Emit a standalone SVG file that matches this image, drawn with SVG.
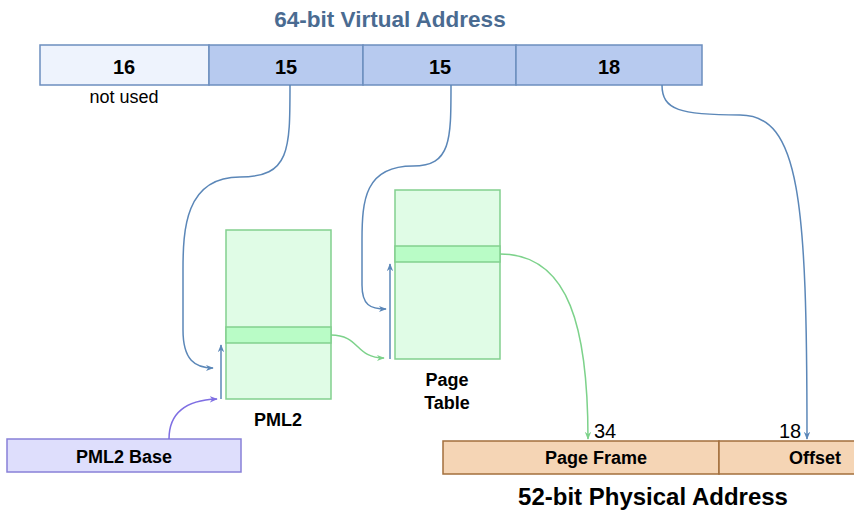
<svg xmlns="http://www.w3.org/2000/svg" width="854" height="512" viewBox="0 0 854 512">
<defs>
<style>
.t{font-family:"Liberation Sans",Arial,sans-serif;font-weight:bold;fill:#000;text-anchor:middle}
.n{font-family:"Liberation Sans",Arial,sans-serif;fill:#000;text-anchor:middle}
.va{fill:#b7caef;stroke:#6c8ebf;stroke-width:1.5}
.tb{fill:#e0fce6;stroke:#82d08e;stroke-width:1.5}
.hl{fill:#b9fcc6;stroke:#82d08e;stroke-width:1.5}
.bl{fill:none;stroke:#5b87b8;stroke-width:1.5}
.gr{fill:none;stroke:#7dd28b;stroke-width:1.5}
.pu{fill:none;stroke:#7f6fe3;stroke-width:1.5}
</style>
<marker id="ab" viewBox="0 0 10 10" refX="9" refY="5" markerWidth="8" markerHeight="8" orient="auto" markerUnits="userSpaceOnUse"><path d="M0,1 L10,5 L0,9 L3,5 z" fill="#5b87b8"/></marker>
<marker id="ag" viewBox="0 0 10 10" refX="9" refY="5" markerWidth="8" markerHeight="8" orient="auto" markerUnits="userSpaceOnUse"><path d="M0,1 L10,5 L0,9 L3,5 z" fill="#7dd28b"/></marker>
<marker id="ap" viewBox="0 0 10 10" refX="9" refY="5" markerWidth="8" markerHeight="8" orient="auto" markerUnits="userSpaceOnUse"><path d="M0,1 L10,5 L0,9 L3,5 z" fill="#7f6fe3"/></marker>
</defs>
<rect width="854" height="512" fill="#fff"/>
<text class="t" x="390" y="27" font-size="22.5" style="fill:#4a6b91">64-bit Virtual Address</text>
<g id="virtual">
<rect x="40" y="45" width="169" height="40" fill="#eef3fd" stroke="#6c8ebf" stroke-width="1.5"/>
<rect class="va" x="209" y="45" width="154" height="40"/>
<rect class="va" x="363" y="45" width="153" height="40"/>
<rect class="va" x="516" y="45" width="186" height="40"/>
<text class="t" x="124" y="74" font-size="20">16</text>
<text class="t" x="286" y="74" font-size="20">15</text>
<text class="t" x="440" y="74" font-size="20">15</text>
<text class="t" x="609" y="74" font-size="20">18</text>
<text class="n" x="124" y="103" font-size="18">not used</text>
</g>
<g id="pml2">
<rect class="tb" x="226" y="230" width="105" height="169"/>
<rect class="hl" x="226" y="327" width="105" height="16"/>
<text class="t" x="278" y="426" font-size="18">PML2</text>
</g>
<g id="pagetable">
<rect class="tb" x="395" y="190" width="105" height="169"/>
<rect class="hl" x="395" y="246" width="105" height="16"/>
<text class="t" x="447" y="386" font-size="18">Page</text>
<text class="t" x="447" y="409" font-size="18">Table</text>
</g>
<g id="pml2base">
<rect x="7" y="439" width="234" height="33" fill="#dedefc" stroke="#8880d8" stroke-width="1.5"/>
<text class="t" x="124" y="463" font-size="18">PML2 Base</text>
</g>
<g id="physical">
<rect x="443" y="441" width="276" height="33" fill="#f5d5b5" stroke="#a36f3c" stroke-width="1.5"/>
<rect x="719" y="441" width="140" height="33" fill="#f5d5b5" stroke="#a36f3c" stroke-width="1.5"/>
<text class="t" x="596" y="464" font-size="18">Page Frame</text>
<text class="t" x="815" y="464" font-size="18">Offset</text>
<text class="n" x="605" y="438" font-size="20">34</text>
<text class="n" x="790" y="438" font-size="20">18</text>
<text class="t" x="653" y="505" font-size="24">52-bit Physical Address</text>
</g>
<g id="connectors">
<path class="bl" d="M221,399 L221,345" marker-end="url(#ab)"/>
<path class="bl" d="M390,359 L390,264" marker-end="url(#ab)"/>
<path class="bl" d="M290,85 C290,150 290,177 240,177 C185,177 183,230 183,270 L183,330 C183,360 195,368 213,368" marker-end="url(#ab)"/>
<path class="bl" d="M451,85 C451,140 451,166 413,166 C365,166 362,200 362,240 L362,285 C362,305 370,309 386,309" marker-end="url(#ab)"/>
<path class="bl" d="M662,85 C662,110 680,115 740,115 C800,115 807,200 807,439" marker-end="url(#ab)"/>
<path class="gr" d="M331,335 C360,335 355,358 384,358" marker-end="url(#ag)"/>
<path class="gr" d="M500,254 C570,254 588,330 588,439" marker-end="url(#ag)"/>
<path class="pu" d="M169,439 C169,410 190,400 217,399" marker-end="url(#ap)"/>
</g>
</svg>
